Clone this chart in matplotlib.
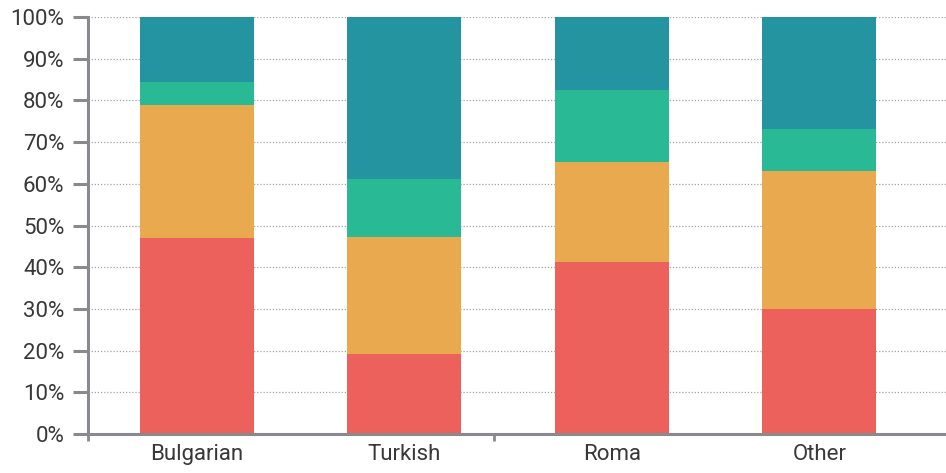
import matplotlib
matplotlib.use("Agg")
import matplotlib.pyplot as plt
import numpy as np

categories = ["Bulgarian", "Turkish", "Roma", "Other"]
seg_red = [47.0, 19.2, 41.2, 30.0]
seg_orange = [31.9, 28.0, 24.0, 33.1]
seg_green = [5.5, 14.0, 17.3, 10.0]
seg_teal = [15.6, 38.8, 17.5, 26.9]
y_ticks = list(range(0, 101, 10))
y_labels = [f"{t}%" for t in y_ticks]

colors = ["#EC615B", "#E9AA4F", "#2AB995", "#2495A0"]
axis_grey = "#8A8A8E"
text_grey = "#383838"

plt.rcParams["font.family"] = ["Roboto", "DejaVu Sans"]

fig = plt.figure(figsize=(9.46, 4.73), dpi=100)
ax = fig.add_axes([0.093, 0.0825, 0.907, 0.8815])

x = np.arange(len(categories))
bottom = np.zeros(len(categories))
for vals, c in zip([seg_red, seg_orange, seg_green, seg_teal], colors):
    ax.bar(x, vals, width=0.55, bottom=bottom, color=c, zorder=3, linewidth=0)
    bottom += np.array(vals)

ax.set_xlim(-0.525, 3.61)
ax.set_ylim(0, 100)

ax.set_yticks(y_ticks)
ax.set_yticklabels(y_labels)
ax.yaxis.grid(True, linestyle=(0, (1, 1.5)), color="#A5A5A5", linewidth=0.9, zorder=0)
ax.set_axisbelow(True)

ax.set_xticks(x)
ax.set_xticklabels(categories)
ax.set_xticks([-0.525, 1.43], minor=True)

for side in ["top", "right"]:
    ax.spines[side].set_visible(False)
for side in ["left", "bottom"]:
    ax.spines[side].set_color(axis_grey)
    ax.spines[side].set_linewidth(2.2)
    ax.spines[side].set_zorder(4)

ax.tick_params(axis="y", which="major", length=11, width=2.2, color=axis_grey,
               labelsize=16, labelcolor=text_grey, pad=6)
ax.tick_params(axis="x", which="major", length=0, labelsize=16,
               labelcolor=text_grey, pad=7)
ax.tick_params(axis="x", which="minor", length=5, width=2, color=axis_grey)

fig.savefig("out.png", dpi=100)
